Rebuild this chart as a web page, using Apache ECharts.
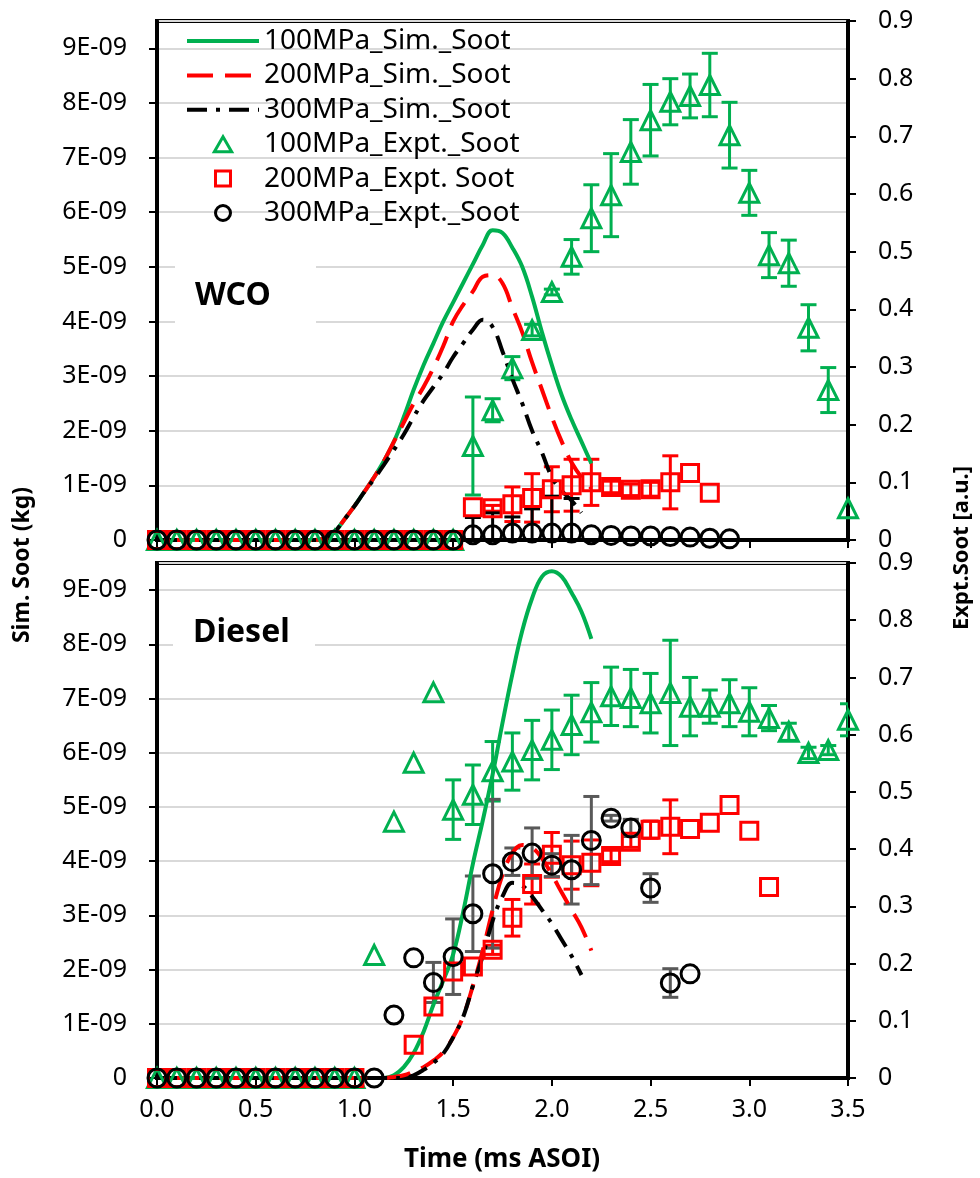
<!DOCTYPE html>
<html><head><meta charset="utf-8">
<script src="https://cdn.jsdelivr.net/npm/echarts@6/dist/echarts.min.js"></script>
<style>html,body{margin:0;padding:0;background:#fff}#c{width:980px;height:1178px}</style>
</head><body><div id="c"></div>
<script>
// ---- simulation time grid (ms ASOI) ----
const simTime = [0,0.05,0.1,0.15,0.2,0.25,0.3,0.35,0.4,0.45,0.5,0.55,0.6,0.65,0.7,0.75,0.8,0.85,0.9,0.95,1.0,1.05,1.1,1.15,1.2,1.25,1.3,1.35,1.4,1.45,1.5,1.55,1.6,1.65,1.7,1.75,1.8,1.85,1.9,1.95,2.0,2.05,2.1,2.15,2.2];
// simulated soot, in units of 1E-09 kg
const wcoSim100 = [0,0,0,0,0,0,0,0,0,0,0,0,0,0,0,0,0,0.03,0.15,0.38,0.62,0.88,1.15,1.45,1.8,2.25,2.75,3.2,3.6,4.0,4.35,4.7,5.05,5.4,5.67,5.62,5.35,5.0,4.45,3.8,3.2,2.65,2.2,1.8,1.4];
const wcoSim200 = [0,0,0,0,0,0,0,0,0,0,0,0,0,0,0,0,0,0.03,0.15,0.38,0.62,0.88,1.15,1.45,1.8,2.15,2.5,2.8,3.15,3.55,4.0,4.3,4.55,4.82,4.85,4.7,4.25,3.8,3.25,2.75,2.25,1.8,1.42,1.15,0.95];
const wcoSim300 = [0,0,0,0,0,0,0,0,0,0,0,0,0,0,0,0,0,0.03,0.15,0.38,0.62,0.88,1.12,1.38,1.65,1.93,2.25,2.55,2.8,3.05,3.35,3.6,3.85,4.03,3.9,3.45,2.95,2.5,2.0,1.6,1.15,0.9,0.72,0.5,null];
const dieSim100 = [0,0,0,0,0,0,0,0,0,0,0,0,0,0,0,0,0,0,0,0,0,0,0,0,0.05,0.2,0.46,0.85,1.35,1.8,2.28,3.05,3.95,4.75,5.6,6.55,7.45,8.25,8.85,9.25,9.35,9.25,8.95,8.6,8.1];
const dieSim200 = [0,0,0,0,0,0,0,0,0,0,0,0,0,0,0,0,0,0,0,0,0,0,0,0,0.02,0.05,0.12,0.2,0.32,0.48,0.75,1.13,1.7,2.35,3.1,3.75,4.15,4.3,4.25,4.05,3.75,3.42,3.1,2.78,2.35];
const dieSim300 = [0,0,0,0,0,0,0,0,0,0,0,0,0,0,0,0,0,0,0,0,0,0,0,0,0,0,0.05,0.15,0.28,0.45,0.75,1.12,1.7,2.25,2.9,3.35,3.6,3.55,3.35,3.1,2.85,2.55,2.25,1.9,null];

// ---- experimental time grid ----
const exptTime = [0,0.1,0.2,0.3,0.4,0.5,0.6,0.7,0.8,0.9,1.0,1.1,1.2,1.3,1.4,1.5,1.6,1.7,1.8,1.9,2.0,2.1,2.2,2.3,2.4,2.5,2.6,2.7,2.8,2.9,3.0,3.1,3.2,3.3,3.4,3.5];
// experimental soot [a.u.] and error half-widths
const wcoExp100 = [0,0,0,0,0,0,0,0,0,0,0,0,0,0,0,0,0.163,0.225,0.298,0.364,0.43,0.491,0.558,0.598,0.673,0.728,0.76,0.77,0.789,0.702,0.602,0.494,0.48,0.368,0.26,0.055];
const wcoErr100 = [null,null,null,null,null,null,null,null,null,null,null,null,null,null,null,null,0.085,0.02,0.02,0.01,0.005,0.03,0.058,0.072,0.056,0.062,0.04,0.038,0.055,0.057,0.039,0.039,0.04,0.04,0.039,null];
const wcoExp200 = [0,0,0,0,0,0,0,0,0,0,0,0,0,0,0,0,0.057,0.055,0.062,0.073,0.088,0.095,0.1,0.092,0.087,0.088,0.1,0.116,0.082,null,null,null,null,null,null,null];
const wcoErr200 = [null,null,null,null,null,null,null,null,null,null,null,null,null,null,null,null,null,0.005,0.03,0.042,0.039,0.045,0.04,0.01,0.01,0.012,0.046,null,null,null,null,null,null,null,null,null];
const wcoExp300 = [0,0,0,0,0,0,0,0,0,0,0,0,0,0,0,0,0.009,0.009,0.012,0.012,0.012,0.012,0.009,0.008,0.007,0.007,0.006,0.005,0.003,0.002,null,null,null,null,null,null];
const wcoErr300 = [null,null,null,null,null,null,null,null,null,null,null,null,null,null,null,null,0.03,0.038,0.028,0.042,0.064,0.06,null,null,null,null,null,null,null,null,null,null,null,null,null,null];
const dieExp100 = [0,0,0,0,0,0,0,0,0,0,0,0.215,0.448,0.551,0.674,0.469,0.495,0.536,0.553,0.573,0.591,0.617,0.639,0.667,0.664,0.655,0.673,0.649,0.649,0.655,0.64,0.629,0.605,0.568,0.573,0.626];
const dieErr100 = [null,null,null,null,null,null,null,null,null,null,null,null,null,null,null,0.052,0.052,0.052,0.05,0.052,0.052,0.052,0.052,0.051,0.05,0.052,0.092,0.051,0.029,0.041,0.042,0.022,0.015,0.01,0.008,0.028];
const dieExp200 = [0,0,0,0,0,0,0,0,0,0,0,null,null,0.058,0.125,0.186,0.195,0.224,0.28,0.339,0.39,0.372,0.376,0.388,0.413,0.434,0.439,0.435,0.446,0.477,0.432,0.334,null,null,null,null];
const dieErr200 = [null,null,null,null,null,null,null,null,null,null,null,null,null,null,null,null,null,0.008,0.032,0.035,0.039,0.042,0.04,0.01,0.01,0.015,0.047,null,null,null,null,null,null,null,null,null];
const dieExp300 = [0,0,0,0,0,0,0,0,0,0,0,0,0.11,0.21,0.167,0.212,0.287,0.357,0.378,0.393,0.372,0.364,0.415,0.454,0.437,0.332,0.166,0.182,null,null,null,null,null,null,null,null];
const dieErr300 = [null,null,null,null,null,null,null,null,null,null,null,null,null,null,0.035,0.066,0.066,0.13,0.024,0.044,0.02,0.06,0.077,0.005,0.015,0.025,0.025,null,null,null,null,null,null,null,null,null];

const leftTicks = {max: 9.5, interval: 1};
const rightTicks = {max: 0.9, interval: 0.1};
const names = ['100MPa_Sim._Soot','200MPa_Sim._Soot','300MPa_Sim._Soot','100MPa_Expt._Soot','200MPa_Expt. Soot','300MPa_Expt._Soot'];

const GREEN = '#00b050', RED = '#ff0000', BLACK = '#000000';
const FONT = 'Noto Sans';

function zip(xs, ys){ return xs.map((x,i)=>[x, ys[i]]); }

function lineSeries(name, gi, vals, color, dash){
  return {type:'line', name, xAxisIndex:gi, yAxisIndex:gi*2, data: zip(simTime, vals),
    symbol:'none', smooth:0.4, connectNulls:false, z:4,
    lineStyle:{color, width:4, type: dash || 'solid', cap:'butt'}, itemStyle:{color}};
}
function scatterSeries(name, gi, vals, color, symbol, size){
  return {type:'scatter', name, xAxisIndex:gi, yAxisIndex:gi*2+1,
    data: zip(exptTime, vals).filter(p=>p[1]!=null),
    symbol, symbolSize:size, z:5,
    itemStyle:{color:'rgba(255,255,255,0)', borderColor:color, borderWidth:3, opacity:1}};
}
function errSeries(gi, vals, errs, color){
  const data = [];
  exptTime.forEach((t,i)=>{ if(vals[i]!=null && errs[i]!=null) data.push([t, vals[i]-errs[i], vals[i]+errs[i]]); });
  return {type:'custom', xAxisIndex:gi, yAxisIndex:gi*2+1, data, z:4, silent:true, clip:true,
    encode:{x:0, y:[1,2]},
    renderItem:(params, api)=>{
      const x = api.value(0);
      const lo = api.coord([x, api.value(1)]);
      const hi = api.coord([x, api.value(2)]);
      const w = 8;
      const st = {stroke:color, lineWidth:3};
      return {type:'group', children:[
        {type:'line', shape:{x1:lo[0], y1:lo[1], x2:hi[0], y2:hi[1]}, style:st},
        {type:'line', shape:{x1:lo[0]-w, y1:lo[1], x2:lo[0]+w, y2:lo[1]}, style:st},
        {type:'line', shape:{x1:hi[0]-w, y1:hi[1], x2:hi[0]+w, y2:hi[1]}, style:st}
      ]};
    }};
}

const axisLineS = {show:true, lineStyle:{color:'#000', width:4}};
const tickS = {show:true, inside:false, length:8, lineStyle:{color:'#000', width:2}};
const labelS = {color:'#000', fontFamily:FONT, fontSize:25};

function xAxis(gi, showLabel){
  return {type:'value', gridIndex:gi, min:0, max:3.5, interval:0.5,
    axisLine:axisLineS, axisTick:tickS, splitLine:{show:false},
    axisLabel:Object.assign({show:showLabel, margin:19, formatter:v=>v.toFixed(1)}, labelS)};
}
function yLeft(gi){
  return {type:'value', gridIndex:gi, position:'left', min:0, max:leftTicks.max, interval:leftTicks.interval,
    axisLine:axisLineS, axisTick:tickS, splitLine:{show:true, lineStyle:{color:'#d9d9d9', width:2}},
    axisLabel:Object.assign({margin:30, showMaxLabel:false, formatter:v=> v===0 ? '0' : Math.round(v)+'E-09'}, labelS)};
}
function yRight(gi){
  return {type:'value', gridIndex:gi, position:'right', min:0, max:rightTicks.max, interval:rightTicks.interval,
    axisLine:axisLineS, axisTick:tickS, splitLine:{show:false},
    axisLabel:Object.assign({margin:30, formatter:v=> v===0 ? '0' : v.toFixed(1)}, labelS)};
}

const series = [
  lineSeries(names[0], 0, wcoSim100, GREEN),
  lineSeries(names[1], 0, wcoSim200, RED, [26,12]),
  lineSeries(names[2], 0, wcoSim300, BLACK, [20,9,4,9]),
  errSeries(0, wcoExp100, wcoErr100, GREEN),
  errSeries(0, wcoExp200, wcoErr200, RED),
  errSeries(0, wcoExp300, wcoErr300, BLACK),
  scatterSeries(names[3], 0, wcoExp100, GREEN, 'triangle', 19),
  scatterSeries(names[4], 0, wcoExp200, RED, 'rect', 17),
  scatterSeries(names[5], 0, wcoExp300, BLACK, 'circle', 18),
  lineSeries(names[0], 1, dieSim100, GREEN),
  lineSeries(names[1], 1, dieSim200, RED, [26,12]),
  lineSeries(names[2], 1, dieSim300, BLACK, [20,9,4,9]),
  errSeries(1, dieExp100, dieErr100, GREEN),
  errSeries(1, dieExp200, dieErr200, RED),
  errSeries(1, dieExp300, dieErr300, '#595959'),
  scatterSeries(names[3], 1, dieExp100, GREEN, 'triangle', 19),
  scatterSeries(names[4], 1, dieExp200, RED, 'rect', 17),
  scatterSeries(names[5], 1, dieExp300, BLACK, 'circle', 18)
];

const hideSym = {color:'rgba(0,0,0,0)', borderColor:'rgba(0,0,0,0)', borderWidth:0};
const legendData = [
  {name:names[0], itemStyle:hideSym, lineStyle:{width:4}},
  {name:names[1], itemStyle:hideSym, lineStyle:{width:4}},
  {name:names[2], itemStyle:hideSym, lineStyle:{width:4}},
  {name:names[3], icon:'path://M5,0L10,8.66L0,8.66Z', itemStyle:{borderWidth:3, opacity:1}},
  {name:names[4], icon:'path://M0,0H10V10H0Z', itemStyle:{borderWidth:3, opacity:1}},
  {name:names[5], icon:'circle', itemStyle:{borderWidth:3, opacity:1}}
];

const chart = echarts.init(document.getElementById('c'), null, {renderer:'canvas'});
chart.setOption({
  animation:false,
  backgroundColor:'#fff',
  grid:[
    {left:157, right:132, top:21, height:519, show:true, borderColor:'#000', borderWidth:4, backgroundColor:'transparent'},
    {left:157, right:132, top:563, height:515, show:true, borderColor:'#000', borderWidth:4, backgroundColor:'transparent'}
  ],
  xAxis:[xAxis(0,false), xAxis(1,true)],
  yAxis:[yLeft(0), yRight(0), yLeft(1), yRight(1)],
  legend:{data:legendData, orient:'vertical', left:180, top:21, itemWidth:72, itemHeight:15, itemGap:4.4,
    symbolKeepAspect:true, lineStyle:{width:4}, itemStyle:{borderWidth:3},
    textStyle:{fontFamily:FONT, fontSize:28, color:'#000', lineHeight:30}, selectedMode:false},
  graphic:[
    {type:'rect', z:1, shape:{x:175, y:262, width:141, height:68}, style:{fill:'#fff'}},
    {type:'text', z:2, x:195, y:296, style:{text:'WCO', fontFamily:FONT, fontWeight:'bold', fontSize:32, fill:'#000', verticalAlign:'middle'}},
    {type:'rect', z:1, shape:{x:173, y:605, width:142, height:57}, style:{fill:'#fff'}},
    {type:'text', z:2, x:193, y:633, style:{text:'Diesel', fontFamily:FONT, fontWeight:'bold', fontSize:32, fill:'#000', verticalAlign:'middle'}},
    {type:'text', x:22, y:565, rotation:Math.PI/2, style:{text:'Sim. Soot (kg)', fontFamily:FONT, fontWeight:'bold', fontSize:23, fill:'#000', align:'center', verticalAlign:'middle'}},
    {type:'text', x:962, y:548, rotation:Math.PI/2, style:{text:'Expt.Soot [a.u.]', fontFamily:FONT, fontWeight:'bold', fontSize:22, fill:'#000', align:'center', verticalAlign:'middle'}},
    {type:'text', x:502, y:1160, style:{text:'Time (ms ASOI)', fontFamily:FONT, fontWeight:'bold', fontSize:26, fill:'#000', align:'center', verticalAlign:'middle'}}
  ],
  series
});
</script></body></html>
